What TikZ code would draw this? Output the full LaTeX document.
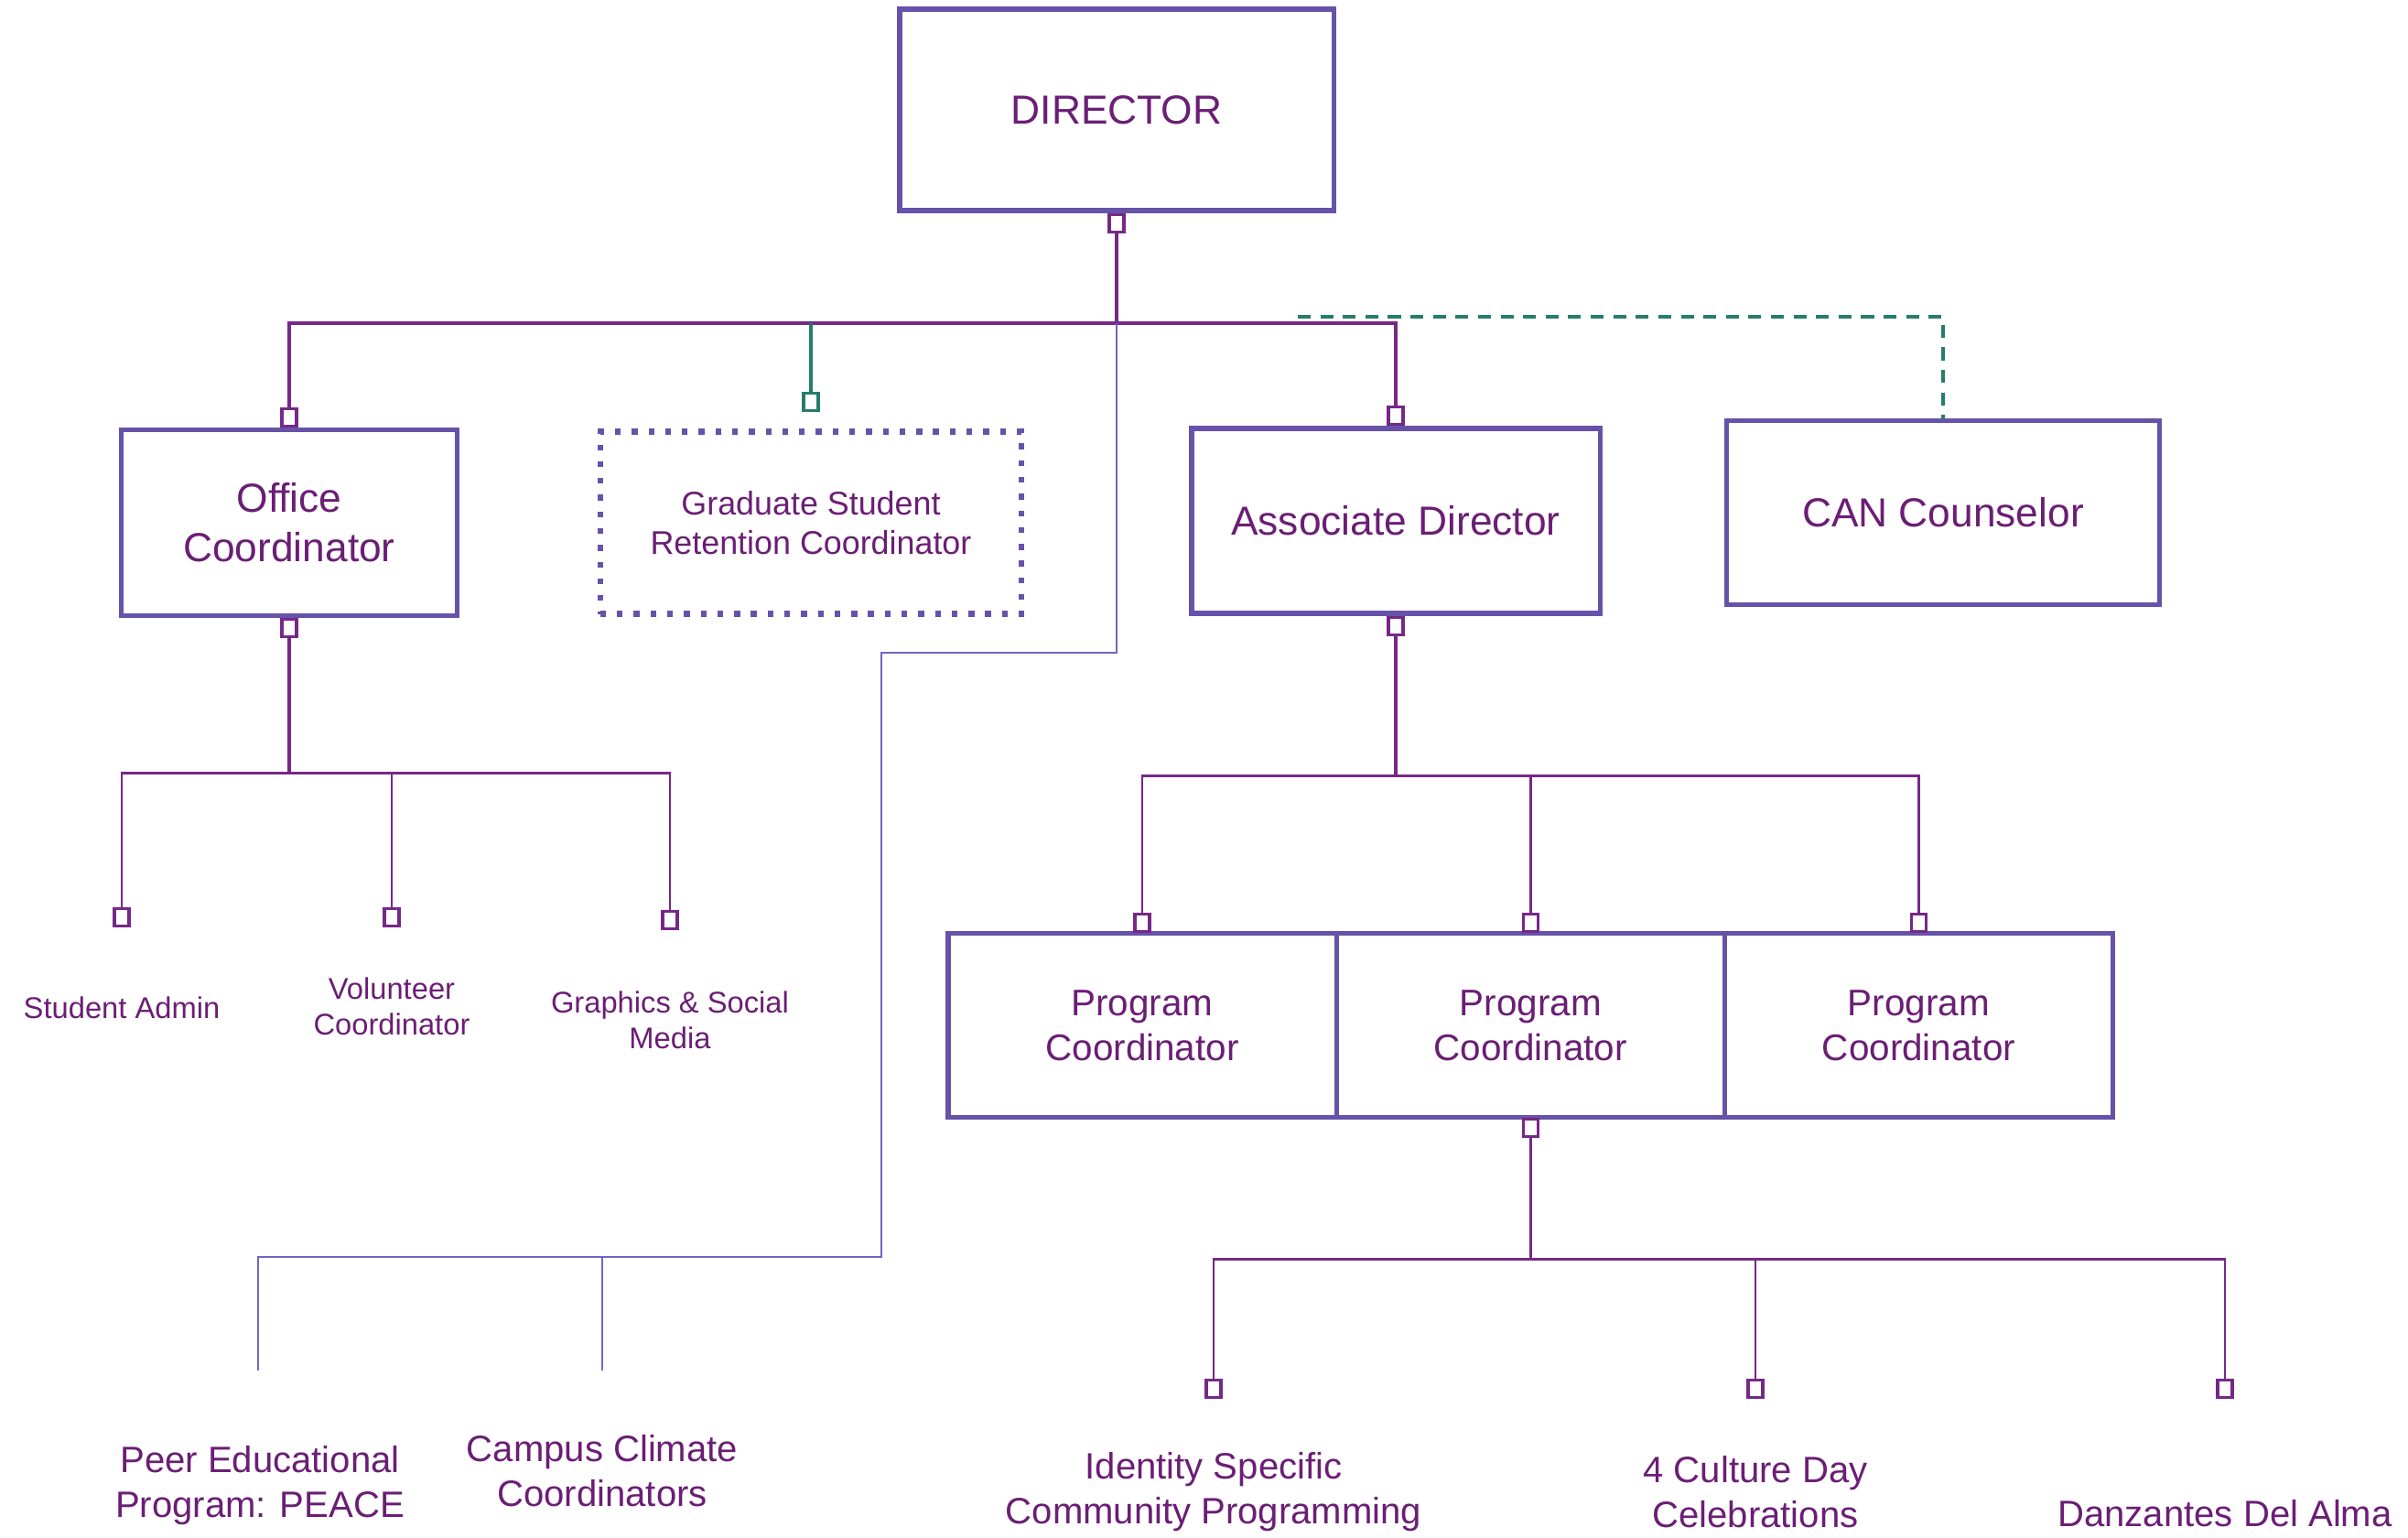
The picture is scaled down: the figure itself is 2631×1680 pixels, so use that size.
\documentclass[tikz,border=0pt]{standalone}
\usepackage{fontspec}
\setmainfont{Liberation Sans}
\usetikzlibrary{positioning, calc}

\definecolor{boxc}{RGB}{103,82,170}
\definecolor{txtc}{RGB}{107,30,117}
\definecolor{linec}{RGB}{118,40,135}
\definecolor{tealc}{RGB}{38,125,108}
\definecolor{peacec}{RGB}{118,98,198}

\begin{document}
\begin{tikzpicture}[
        x=0.01cm, y=-0.01cm,
        box/.style={
            rectangle, draw=boxc, line width=1.5pt, fill=white,
            text=txtc, align=center, inner sep=0pt,
            font=\fontsize{12.6}{15.3}\selectfont
        },
        dotbox/.style={
            rectangle, draw=boxc, line width=1.8pt, dash pattern=on 1.8pt off 3.4pt,
            text=txtc, align=center, inner sep=0pt,
            font=\fontsize{10.2}{12.4}\selectfont
        },
        progbox/.style={
            box, outer sep=0pt, minimum width=4.24cm, minimum height=2.01cm,
            font=\fontsize{11.5}{13.9}\selectfont
        },
        port/.style={
            rectangle, draw=linec, fill=white, line width=0.9pt,
            minimum width=0.16cm, minimum height=0.19cm, inner sep=0pt
        },
        gport/.style={port, draw=tealc},
        link/.style={draw=linec, line width=1pt},
        sublink/.style={draw=linec, line width=0.8pt},
        glink/.style={draw=tealc, line width=0.9pt},
        dlink/.style={draw=tealc, line width=1pt, dash pattern=on 4pt off 3pt},
        plink/.style={draw=peacec, line width=0.8pt},
        leaf/.style={
            text=txtc, align=center, inner sep=0pt,
            font=\fontsize{11.4}{13.9}\selectfont
        },
        smallleaf/.style={leaf, font=\fontsize{9.3}{11}\selectfont},
    ]

    \useasboundingbox (0,0) rectangle (2631,1680);

    % ── Top level ──
    \node[box, minimum width=4.74cm, minimum height=2.20cm] (director) at (1220,120) {DIRECTOR};
    \node[port, anchor=north] (dirP) at (director.south) {};

    \node[box, minimum width=3.67cm, minimum height=2.03cm] (office) at (316,571) {Office\\Coordinator};
    \node[dotbox, minimum width=4.60cm, minimum height=1.99cm] (grad) at (886,571) {Graduate Student\\Retention Coordinator};
    \node[box, minimum width=4.46cm, minimum height=2.02cm] (assoc) at (1525,569) {Associate Director};
    \node[box, minimum width=4.73cm, minimum height=2.01cm] (can) at (2123,560) {CAN Counselor};

    \node[port, anchor=south] (offT) at (office.north) {};
    \node[port, anchor=north] (offB) at (office.south) {};
    \node[gport, above=0.18cm of grad] (gradP) {};
    \node[port, anchor=south] (assocT) at (assoc.north) {};
    \node[port, anchor=north] (assocB) at (assoc.south) {};

    % ── Program coordinators ──
    \node[progbox] (prog1) at (1248,1120) {Program\\Coordinator};
    \node[progbox, right=0pt of prog1] (prog2) {Program\\Coordinator};
    \node[progbox, right=0pt of prog2] (prog3) {Program\\Coordinator};
    \node[port, anchor=south] (prog1T) at (prog1.north) {};
    \node[port, anchor=south] (prog2T) at (prog2.north) {};
    \node[port, anchor=south] (prog3T) at (prog3.north) {};
    \node[port, anchor=north] (prog2B) at (prog2.south) {};

    % ── Leaves ──
    \node[port] (saP) at (133,1002) {};
    \node[port] (vcP) at (428,1002) {};
    \node[port] (gsP) at (732,1005) {};
    \node[smallleaf] (sadmin) at (133,1101) {Student Admin};
    \node[smallleaf] (volco) at (428,1099) {Volunteer\\Coordinator};
    \node[smallleaf] (graph) at (732,1114) {Graphics \& Social\\Media};

    \node[port] (idP) at (1326,1517) {};
    \node[port] (cdP) at (1918,1517) {};
    \node[port] (dzP) at (2431,1517) {};
    \node[leaf] (ident) at (1326,1630) {Identity Specific\\Community Programming};
    \node[leaf] (culture) at (1918,1630) {4 Culture Day\\Celebrations};
    \node[leaf] (danz) at (2431,1653) {Danzantes Del Alma};

    \node[leaf] (peace) at (284,1623) {Peer Educational\\Program: PEACE};
    \node[leaf] (climate) at (658,1607) {Campus Climate\\Coordinators};

    % ── Connectors ──
    \draw[link] (dirP) -- ++(0,109) coordinate (hub);
    \draw[link] (offT) |- (hub) -| (assocT);
    \draw[glink] (gradP) -- (gradP |- hub);
    \coordinate (dashStart) at (1418,346);
    \draw[dlink] (dashStart) -| (can.north);

    \draw[link] (offB) -- ++(0,158) coordinate (offHub);
    \draw[sublink] (saP) |- (offHub) -| (gsP);
    \draw[sublink] (vcP) -- (vcP |- offHub);

    \draw[link] (assocB) -- ++(0,164) coordinate (assocHub);
    \draw[sublink] (prog1T) |- (assocHub) -| (prog3T);
    \draw[sublink] (prog2T) -- (prog2T |- assocHub);

    \draw[link] (prog2B) -- ++(0,144) coordinate (progHub);
    \draw[sublink] (idP) |- (progHub) -| (dzP);
    \draw[sublink] (cdP) -- (cdP |- progHub);

    % PEACE branch
    \coordinate (pTurn) at (963,713);
    \coordinate (pBus) at (963,1373);
    \coordinate (peaceEnd) at (282,1497);
    \coordinate (climateEnd) at (658,1497);
    \draw[plink] (hub) |- (pTurn) -- (pBus) -| (peaceEnd);
    \draw[plink] (climateEnd) -- (climateEnd |- pBus);

\end{tikzpicture}
\end{document}
